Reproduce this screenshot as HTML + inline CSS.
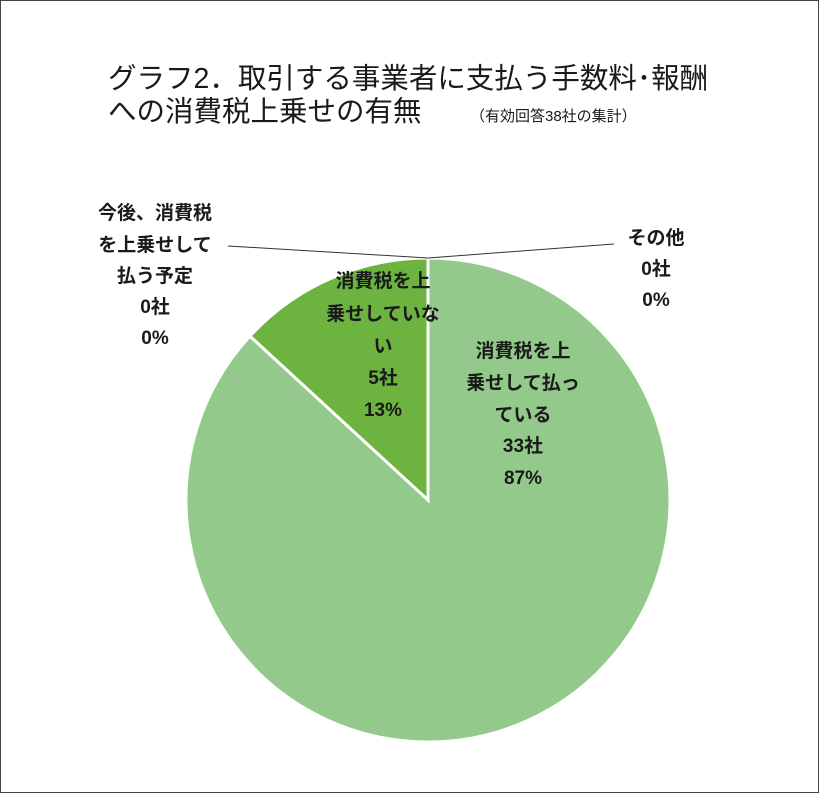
<!DOCTYPE html>
<html><head><meta charset="utf-8"><style>
body{margin:0;background:#fff}
svg{display:block}
text{font-family:"Liberation Sans","Noto Sans CJK JP",sans-serif;fill:#1a1a1a}
.lbl{font-size:19px;font-weight:bold;text-anchor:middle}
</style></head><body>
<svg width="819" height="793" viewBox="0 0 819 793">
<rect x="0.5" y="0.5" width="818" height="792" fill="#fff" stroke="#444"/>
<text x="108" y="88" font-size="28.5">グラフ2．取引する事業者に支払う手数料･報酬</text>
<text x="108" y="121" font-size="28.5">への消費税上乗せの有無</text>
<text x="470" y="121" font-size="15">（有効回答38社の集計）</text>
<g id="pie"></g>
<line x1="428" y1="258" x2="228" y2="246" stroke="#333" stroke-width="1"/>
<line x1="428" y1="258" x2="614" y2="244" stroke="#333" stroke-width="1"/>
<g>
<text class="lbl" x="155" y="219">今後、消費税</text>
<text class="lbl" x="155" y="251">を上乗せして</text>
<text class="lbl" x="155" y="282">払う予定</text>
<text class="lbl" x="155" y="313">0社</text>
<text class="lbl" x="155" y="344">0%</text>
</g>
<g>
<text class="lbl" x="656" y="244">その他</text>
<text class="lbl" x="656" y="275">0社</text>
<text class="lbl" x="656" y="306">0%</text>
</g>
<g>
<text class="lbl" x="383" y="287">消費税を上</text>
<text class="lbl" x="383" y="320">乗せしていな</text>
<text class="lbl" x="383" y="352">い</text>
<text class="lbl" x="383" y="384">5社</text>
<text class="lbl" x="383" y="416">13%</text>
</g>
<g>
<text class="lbl" x="523" y="357">消費税を上</text>
<text class="lbl" x="523" y="389">乗せして払っ</text>
<text class="lbl" x="523" y="421">ている</text>
<text class="lbl" x="523" y="452">33社</text>
<text class="lbl" x="523" y="484">87%</text>
</g>
</svg>
<script>
const categories=["消費税を上乗せして払っている","消費税を上乗せしていない","今後、消費税を上乗せして払う予定","その他"];
const values=[33,5,0,0];
const colors=["#93c98a","#6db33f","#4e8f2b","#cfe5c6"];
const cx=428,cy=500,r=242;
const g=document.getElementById('pie');
const total=values.reduce((a,b)=>a+b,0);
let a0=-Math.PI/2;
values.forEach((v,i)=>{
  if(v<=0)return;
  const a1=a0+v/total*2*Math.PI;
  const x0=cx+r*Math.cos(a0),y0=cy+r*Math.sin(a0),x1=cx+r*Math.cos(a1),y1=cy+r*Math.sin(a1);
  const large=(a1-a0)>Math.PI?1:0;
  const p=document.createElementNS('http://www.w3.org/2000/svg','path');
  p.setAttribute('d',`M${cx},${cy}L${x0},${y0}A${r},${r} 0 ${large} 1 ${x1},${y1}Z`);
  p.setAttribute('fill',colors[i]);
  p.setAttribute('stroke','#fff');
  p.setAttribute('stroke-width','3');
  
  
  g.appendChild(p);
  a0=a1;
});
</script>
</body></html>
